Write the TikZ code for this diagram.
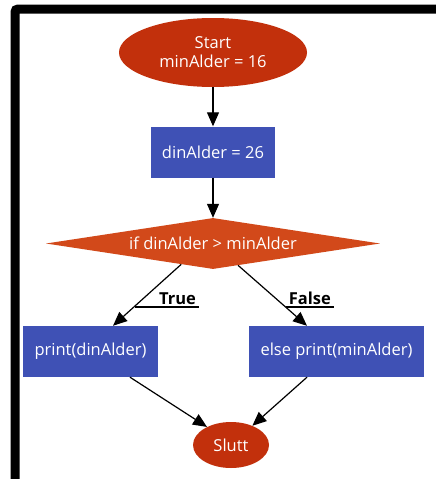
\documentclass[tikz,border=0pt]{standalone}
\usepackage{fontspec}
\setmainfont{Open Sans}
\usepackage{tikz}
\usetikzlibrary{shapes.geometric,arrows.meta,calc}
\definecolor{startred}{HTML}{C2300C}
\definecolor{testred}{HTML}{D2491A}
\definecolor{boxblue}{HTML}{3F51B5}
\tikzstyle{arrow} = [->,>={Triangle[length=14pt,width=12pt]},line width=1.2pt]
\tikzstyle{term} = [ellipse,fill=startred,text=white,inner sep=0pt,align=center]
\tikzstyle{stepbox} = [rectangle,fill=boxblue,text=white,inner sep=0pt,minimum height=51pt]
\tikzstyle{test} = [diamond,fill=testred,text=white,inner sep=0pt,aspect=6.55,minimum width=334pt,minimum height=51pt]

\begin{document}
\begin{tikzpicture}[x=1pt,y=-1pt]
        \fontsize{16.5}{19}\selectfont
        \useasboundingbox[fill=white] (0,0) rectangle (436,479);
        % window frame
        \draw[line width=9pt, rounded corners=3pt] (15,479) -- (15,9) -- (436,9);

        \node[term, minimum width=188pt, minimum height=69pt] at (213,52.5) (start) {Start\\minAlder = 16};
        \node[stepbox, minimum width=124pt] at (213,152) (din) {dinAlder = 26};
        \node[test] at (213,243.5) (if) {if dinAlder > minAlder};
        \node[stepbox, minimum width=135pt] at (90.5,351.5) (yes) {print(dinAlder)};
        \node[stepbox, minimum width=175pt] at (336.5,351.5) (no) {else print(minAlder)};
        \node[term, minimum width=76pt, minimum height=46pt] at (231,445) (end) {Slutt};

        \coordinate (ifl) at ($(if.west)!0.81!(if.south)$);
        \coordinate (ifr) at ($(if.east)!0.85!(if.south)$);
        \coordinate (tl) at (134.5,307);
        \coordinate (fl) at (285.5,307);

        \draw[arrow] (start) -- (din);
        \draw[arrow] (din) -- (if);
        \draw[arrow] (ifl) -- ([xshift=22.5pt]yes.north);
        \draw[arrow] (ifr) -- ([xshift=-29.5pt]no.north);
        \draw[arrow] ([xshift=39.5pt]yes.south) -- (end.143);
        \draw[arrow] ([xshift=-29.5pt]no.south) -- (end.42);

        \draw[line width=1.2pt] (tl) -- ++(64,0) node[above left, inner sep=2pt, font=\bfseries] {True};
        \draw[line width=1.2pt] (fl) -- ++(48,0) node[above left, inner sep=2pt, font=\bfseries] {False};
    \end{tikzpicture}
\end{document}
